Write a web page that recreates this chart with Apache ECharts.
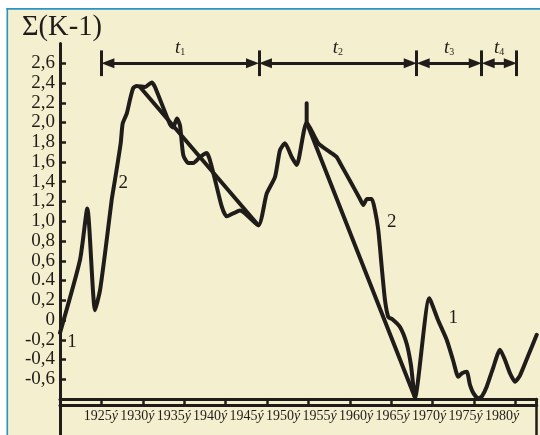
<!DOCTYPE html>
<html><head><meta charset="utf-8">
<script src="https://cdn.jsdelivr.net/npm/echarts@6/dist/echarts.min.js"></script>
<style>html,body{margin:0;padding:0;background:#fff}#c{width:540px;height:435px}</style>
</head><body><div id="c"></div>
<script>
// ---- data ----
const yTickValues = [-0.6,-0.4,-0.2,0,0.2,0.4,0.6,0.8,1.0,1.2,1.4,1.6,1.8,2.0,2.2,2.4,2.6];
const yTickLabels = ['-0,6','-0,4','-0,2','0','0,2','0.4','0,6','0,8','1,0','1,2','1,4','1,6','1,8','2,0','2,2','2,4','2,6'];
const xLabelYears = [1925,1930,1935,1940,1945,1950,1955,1960,1965,1970,1975,1980];
const xLabels = ['1925ý','1930ý','1935ý','1940ý','1945ý','1950ý','1955ý','1960ý','1965ý','1970ý','1975ý','1980ý'];

const curve1Years = [1920.0,1922.42,1923.30,1924.23,1924.83,1925.64,1926.24,1926.64,1927.33,1927.57,1928.06,1928.45,1928.85,1929.26,1930.27,1931.07,1931.47,1933.29,1933.65,1934.13,1934.49,1934.89,1935.49,1936.10,1936.91,1937.72,1938.51,1939.53,1940.13,1941.74,1943.95,1944.96,1945.97,1946.57,1947.17,1947.98,1948.59,1949.79,1951.19,1952.61,1953.42,1953.82,1955.02,1956.23,1956.63,1957.08,1957.65,1958.04,1958.44,1958.85,1959.25,1959.65,1960.10,1961.06,1961.87,1962.39,1962.87,1964.60,1965.65,1966.70,1967.46,1968.10,1968.55,1969.12,1969.52,1969.92,1970.52,1970.97,1971.53,1972.29,1973.14,1973.74,1974.35,1974.95,1975.56,1976.52,1977.57];
const curve1Values = [-0.13,0.61,1.13,0.10,0.30,0.81,1.215,1.42,1.79,1.99,2.09,2.23,2.35,2.37,2.36,2.405,2.36,1.98,1.95,2.04,1.97,1.67,1.59,1.59,1.65,1.69,1.49,1.15,1.05,1.11,0.96,1.28,1.45,1.72,1.79,1.65,1.57,2.00,1.79,1.70,1.65,1.59,1.41,1.225,1.165,1.225,1.225,1.11,0.91,0.54,0.20,0.03,0.01,-0.07,-0.24,-0.46,-0.785,0.22,0.0,-0.20,-0.405,-0.575,-0.54,-0.525,-0.66,-0.74,-0.795,-0.77,-0.675,-0.49,-0.30,-0.405,-0.54,-0.625,-0.56,-0.365,-0.15];

const curve2Years = [1929.66,1943.95,1946.5,1949.79,1949.79,1962.87];
const curve2Values = [2.36,0.96,'-',2.195,2.0,-0.785];

const periodBounds = [1925,1944.03,1963.08,1970.93,1975.16];
const periodNames = ['1','2','3','4'];
const periodLevel = 2.6;
const periodBarTop = 2.73, periodBarBottom = 2.47;

const curveTags = [
  {text:'1', year:1921.45, value:-0.22},
  {text:'2', year:1927.64, value:1.385},
  {text:'2', year:1960.06, value:0.995},
  {text:'1', year:1967.50, value:0.017}
];

// ---- style ----
const INK = '#1f1c1a';
const SERIF = "'Liberation Serif','DejaVu Serif',serif";
const BG = '#F4EFCE';
const BLUE = '#2a93c8';

const zip = (xs, ys) => xs.map((x,i)=>[x, ys[i]]);
const arrowInset = 0.78;

const periodLines = [];
for (let i=0;i<periodNames.length;i++){
  const a = periodBounds[i], b = periodBounds[i+1];
  periodLines.push([
    {coord:[a+arrowInset, periodLevel], symbol:'triangle', symbolSize:[10,13],
     label:{show:true, position:'insideMiddleTop', distance:6,
       formatter:'{t|t}{s|'+periodNames[i]+'}',
       rich:{t:{fontFamily:SERIF,fontStyle:'italic',fontSize:19,color:INK,lineHeight:20,verticalAlign:'bottom'},
             s:{fontFamily:SERIF,fontSize:10,color:INK,lineHeight:13,verticalAlign:'bottom'}}}},
    {coord:[b-arrowInset, periodLevel], symbol:'triangle', symbolSize:[10,13]}
  ]);
}
periodBounds.forEach(b=>{
  periodLines.push([
    {coord:[b, periodBarTop], symbol:'none', lineStyle:{width:3,color:INK}},
    {coord:[b, periodBarBottom], symbol:'none'}
  ]);
});

const chart = echarts.init(document.getElementById('c'), null, {renderer:'canvas'});
chart.setOption({
  backgroundColor: BG,
  animation:false,
  title:{text:'Σ(K-1)', left:17, top:8, textStyle:{fontFamily:SERIF,fontSize:28.5,fontWeight:'normal',color:INK}},
  graphic:[
    {type:'rect', shape:{x:0,y:0,width:540,height:8}, style:{fill:'#fff'}, silent:true},
    {type:'rect', shape:{x:0,y:0,width:6.5,height:435}, style:{fill:'#fff'}, silent:true},
    {type:'line', shape:{x1:6.5,y1:8.8,x2:540,y2:8.8}, style:{stroke:BLUE,lineWidth:1.8}, silent:true},
    {type:'line', shape:{x1:7.3,y1:8,x2:7.3,y2:435}, style:{stroke:BLUE,lineWidth:1.6}, silent:true}
  ],
  grid:[
    {left:60, right:3.3, top:43.5, bottom:36},
    {left:60, right:3.3, top:399, bottom:0}
  ],
  xAxis:[
    {gridIndex:0, type:'value', min:1920, max:1977.57,
     axisLine:{show:true,onZero:false,lineStyle:{color:INK,width:3}},
     axisTick:{show:false}, axisLabel:{show:false}, splitLine:{show:false}},
    {gridIndex:0, type:'value', min:1920, max:1977.57, interval:5, position:'bottom', offset:6,
     axisLine:{show:true,onZero:false,lineStyle:{color:INK,width:3}},
     axisTick:{show:true,inside:true,length:6,lineStyle:{color:INK,width:2.5}},
     axisLabel:{show:false}, splitLine:{show:false}},
    {gridIndex:1, type:'value', min:1919.41, max:1984.75, position:'top',
     axisLine:{show:false}, axisTick:{show:false}, splitLine:{show:false},
     axisLabel:{show:true, inside:true, margin:10, customValues:xLabelYears,
       formatter:(v)=>{const i=xLabelYears.indexOf(Math.round(v)); const s=xLabels[i]||''; return '{n|'+s.slice(0,-1)+'}{i|'+s.slice(-1)+'}';},
       rich:{n:{fontFamily:SERIF,fontSize:14,color:INK},i:{fontFamily:SERIF,fontSize:14,fontStyle:'italic',color:INK}}}}
  ],
  yAxis:[
    {gridIndex:0, type:'value', min:-0.8, max:2.8, interval:0.2,
     axisLine:{show:true,onZero:false,lineStyle:{color:INK,width:3}},
     axisTick:{show:true,inside:true,length:6,customValues:yTickValues,lineStyle:{color:INK,width:2.5}},
     axisLabel:{show:true, margin:5, customValues:yTickValues, fontFamily:SERIF, fontSize:19, color:INK,
       formatter:(v)=>{const i=yTickValues.findIndex(t=>Math.abs(t-v)<1e-6); return i>=0?yTickLabels[i]:'';}},
     splitLine:{show:false}},
    {gridIndex:1, type:'value', min:0, max:1,
     axisLine:{show:true,onZero:false,lineStyle:{color:INK,width:3}},
     axisTick:{show:false}, axisLabel:{show:false}, splitLine:{show:false}},
    {gridIndex:1, type:'value', min:0, max:1, position:'right',
     axisLine:{show:true,onZero:false,lineStyle:{color:INK,width:2.5}},
     axisTick:{show:false}, axisLabel:{show:false}, splitLine:{show:false}}
  ],
  series:[
    {name:'1', type:'line', xAxisIndex:0, yAxisIndex:0, data:zip(curve1Years,curve1Values),
     symbol:'none', smooth:0.2, lineStyle:{color:INK,width:4,cap:'round',join:'round'},
     markPoint:{silent:true, symbol:'circle', symbolSize:1, itemStyle:{color:'rgba(0,0,0,0)'},
       label:{show:true, position:'inside', formatter:'{c}', fontFamily:SERIF, fontSize:19, color:INK},
       data: curveTags.map(t=>({coord:[t.year,t.value], value:t.text}))}},
    {name:'2', type:'line', xAxisIndex:0, yAxisIndex:0, data:zip(curve2Years,curve2Values),
     symbol:'none', connectNulls:false, lineStyle:{color:INK,width:4,cap:'round',join:'round'},
     markLine:{silent:true, symbol:['none','none'], animation:false,
       lineStyle:{color:INK,width:2.8,type:'solid'}, label:{show:false},
       emphasis:{disabled:true},
       data: periodLines}}
  ]
});
</script></body></html>
